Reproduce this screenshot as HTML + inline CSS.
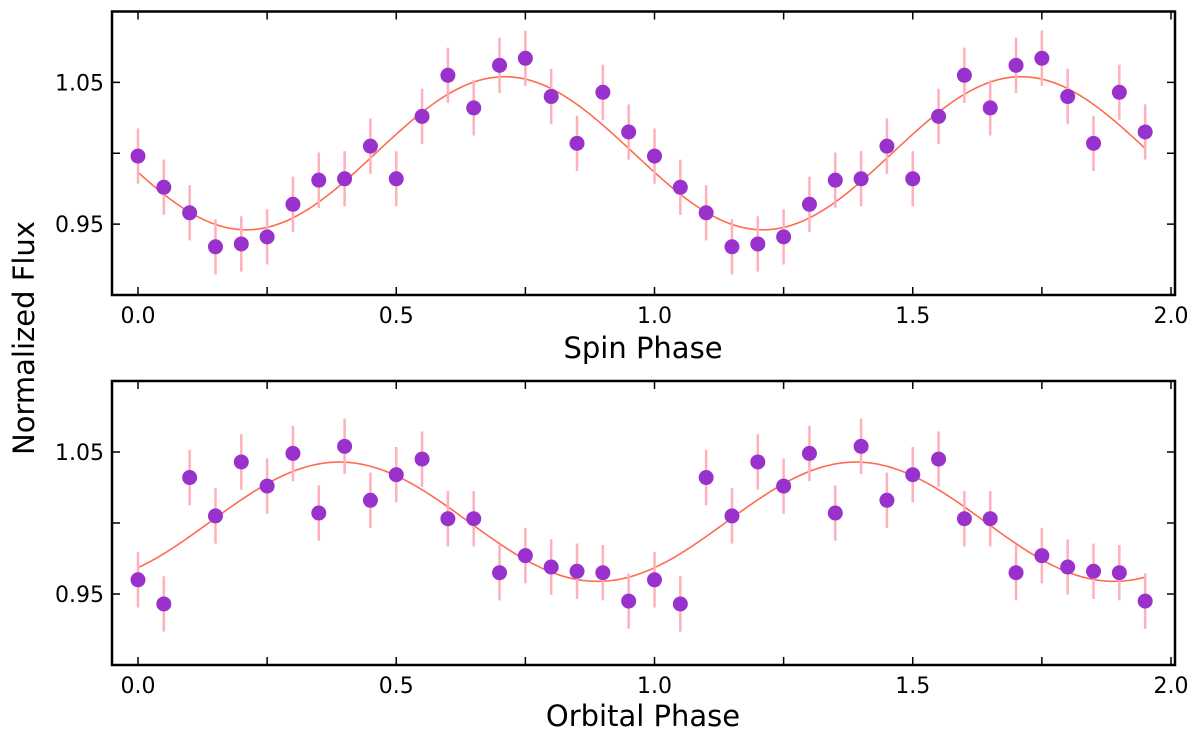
<!DOCTYPE html>
<html><head><meta charset="utf-8"><style>
html,body{margin:0;padding:0;background:#fff;}
svg{display:block;font-family:"DejaVu Sans","Liberation Sans",sans-serif;}
</style></head><body>
<svg id="chart" width="1200" height="743" viewBox="0 0 1200 743" xmlns="http://www.w3.org/2000/svg">
<text x="0" y="0" transform="translate(34,338) rotate(-90)" text-anchor="middle" font-size="29" fill="#000">Normalized Flux</text>
</svg>
<script>
const phases = [0,0.05,0.1,0.15,0.2,0.25,0.3,0.35,0.4,0.45,0.5,0.55,0.6,0.65,0.7,0.75,0.8,0.85,0.9,0.95,1.0,1.05,1.1,1.15,1.2,1.25,1.3,1.35,1.4,1.45,1.5,1.55,1.6,1.65,1.7,1.75,1.8,1.85,1.9,1.95];
const spinFlux = [0.998,0.976,0.958,0.934,0.936,0.941,0.964,0.981,0.982,1.005,0.982,1.026,1.055,1.032,1.062,1.067,1.040,1.007,1.043,1.015,
                  0.998,0.976,0.958,0.934,0.936,0.941,0.964,0.981,0.982,1.005,0.982,1.026,1.055,1.032,1.062,1.067,1.040,1.007,1.043,1.015];
const orbitalFlux = [0.960,0.943,1.032,1.005,1.043,1.026,1.049,1.007,1.054,1.016,1.034,1.045,1.003,1.003,0.965,0.977,0.969,0.966,0.965,0.945,
                     0.960,0.943,1.032,1.005,1.043,1.026,1.049,1.007,1.054,1.016,1.034,1.045,1.003,1.003,0.965,0.977,0.969,0.966,0.965,0.945];
const fluxError = 0.0195;
const spinFit = {mean:1.0, amp:0.054, peak:0.71};
const orbitalFit = {mean:1.0009, amp:0.042, peak:0.39};
const xTicks = [0,0.25,0.5,0.75,1.0,1.25,1.5,1.75,2.0];
const xTickLabels = ["0.0","","0.5","","1.0","","1.5","","2.0"];
const yTicks = [0.95,1.0,1.05];
const yTickLabels = ["0.95","","1.05"];

const NS="http://www.w3.org/2000/svg";
const svg=document.getElementById('chart');
function mk(tag,attrs,parent){const e=document.createElementNS(NS,tag);for(const k in attrs)e.setAttribute(k,attrs[k]);(parent||svg).appendChild(e);return e;}

function panel(name, top, bottom, flux, fit, title, titleY){
  const L=112,R=1175;
  const xs=v=>138+(v)*516.5;
  const ys=v=>top+(1.10-v)/0.20*(bottom-top);
  const g=mk('g',{});
  
  
  let d='';
  for(let i=0;i<=390;i++){const x=i*1.95/390;const y=fit.mean+fit.amp*Math.cos(2*Math.PI*(x-fit.peak));d+=(i?'L':'M')+xs(x).toFixed(2)+','+ys(y).toFixed(2);}
  const c=mk('path',{d:d,fill:'none',stroke:'#ff6a50','stroke-width':1.6},g);
  
  
  flux.forEach((v,i)=>{
    const e=mk('line',{x1:xs(phases[i]),x2:xs(phases[i]),y1:ys(v-fluxError),y2:ys(v+fluxError),stroke:'#ffb0ba','stroke-width':2.5},g);
    
    
  });
  flux.forEach((v,i)=>{
    const p=mk('circle',{cx:xs(phases[i]),cy:ys(v),r:7.5,fill:'#9932cc'},g);
    
    
  });
  xTicks.forEach((t,i)=>{
    const x=xs(t);
    mk('line',{x1:x,x2:x,y1:bottom,y2:bottom-8,stroke:'#000','stroke-width':1.5},g);
    mk('line',{x1:x,x2:x,y1:top,y2:top+8,stroke:'#000','stroke-width':1.5},g);
    if(xTickLabels[i]){const tl=mk('text',{x:x,y:bottom+28,'text-anchor':'middle','font-size':22},g);tl.textContent=xTickLabels[i];
      
      }
  });
  yTicks.forEach((t,i)=>{
    const y=ys(t);
    mk('line',{x1:L,x2:L+8,y1:y,y2:y,stroke:'#000','stroke-width':1.5},g);
    mk('line',{x1:R,x2:R-8,y1:y,y2:y,stroke:'#000','stroke-width':1.5},g);
    if(yTickLabels[i]){const tl=mk('text',{x:L-8,y:y+8,'text-anchor':'end','font-size':22},g);tl.textContent=yTickLabels[i];
      
      }
  });
  const f=mk('rect',{x:L,y:top,width:R-L,height:bottom-top,fill:'none',stroke:'#000','stroke-width':2.5},g);
  
  
  const tt=mk('text',{x:643,y:titleY,'text-anchor':'middle','font-size':29},g);
  tt.textContent=title;
  
  
}
panel('spin',11.5,295,spinFlux,spinFit,'Spin Phase',358);
panel('orbital',381,665,orbitalFlux,orbitalFit,'Orbital Phase',726);
</script>
</body></html>
